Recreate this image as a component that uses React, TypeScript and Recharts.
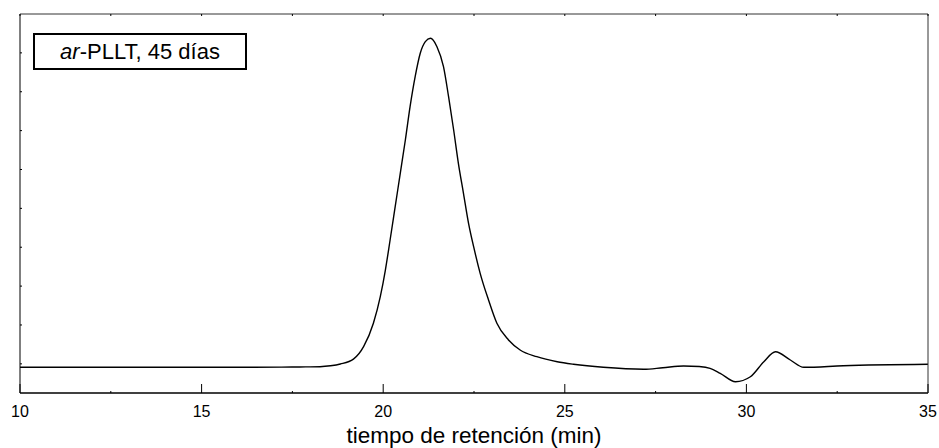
import React from 'react';
import { LineChart, Line, XAxis, YAxis } from 'recharts';

// retention time (min) and detector response (arbitrary units)
const TIME = [
  10, 12, 14, 16, 17.2, 17.7, 18.26, 18.55, 18.82, 19.18, 19.46, 19.73, 19.92, 20.06, 20.19,
  20.33, 20.47, 20.61, 20.74, 20.88, 21.02, 21.16, 21.3, 21.48, 21.66, 21.8, 21.94, 22.07,
  22.21, 22.35, 22.49, 22.67, 22.9, 23.13, 23.45, 23.77, 24.23, 24.79, 25.24, 26.06, 27.17,
  27.7, 28.27, 28.7, 29.0, 29.28, 29.7, 30.11, 30.48, 30.8, 31.21, 31.58, 32.67, 35,
];
const SIGNAL = [
  9.11, 9.11, 9.11, 9.11, 9.15, 9.2, 9.27, 9.5, 9.95, 11.2, 14.41, 20.43, 27.27, 34.14, 41.86,
  50.43, 59.02, 67.59, 76.16, 83.87, 89.89, 92.88, 93.75, 91.59, 86.45, 78.73, 70.16, 61.59,
  53.88, 46.16, 40.14, 33.29, 26.43, 20.43, 16.14, 13.56, 11.84, 10.55, 9.9, 9.11, 8.6,
  9.0, 9.45, 9.3, 8.85, 7.57, 5.41, 6.69, 10.55, 13.1, 10.99, 9.11, 9.52, 9.88,
];

const X_TICKS = [10, 12.5, 15, 17.5, 20, 22.5, 25, 27.5, 30, 32.5, 35];
const Y_TICKS = [10, 20, 30, 40, 50, 60, 70, 80, 90];
const X_DOMAIN = [10, 35];
const Y_DOMAIN = [2.5, 100];

const data = TIME.map((t, i) => ({ t, v: SIGNAL[i] }));

const FONT = '"Liberation Sans", Arial, sans-serif';

const BottomTick = (props: any) => {
  const { x, y, payload } = props;
  const major = payload.value % 5 === 0;
  return (
    <g>
      <line x1={x} x2={x} y1={y} y2={y - (major ? 9 : 2)} stroke="#000" strokeWidth={1} />
      {major && (
        <text x={x} y={y + 24} textAnchor="middle" fontSize={16} fontFamily={FONT} fill="#000">
          {payload.value}
        </text>
      )}
    </g>
  );
};

const TopTick = (props: any) => {
  const { x, y } = props;
  return <line x1={x} x2={x} y1={y} y2={y + 2} stroke="#000" strokeWidth={1} />;
};

const LeftTick = (props: any) => {
  const { x, y } = props;
  return <line x1={x} x2={x + 2} y1={y} y2={y} stroke="#000" strokeWidth={1} />;
};

const RightTick = (props: any) => {
  const { x, y } = props;
  return <line x1={x} x2={x - 2} y1={y} y2={y} stroke="#000" strokeWidth={1} />;
};

const App: React.FC = () => {
  return (
    <div style={{ position: 'absolute', left: 0, top: 0, width: 939, height: 448, background: '#fff' }}>
      <LineChart width={939} height={448} data={data} margin={{ top: 13, right: 10, bottom: 0, left: 19 }}>
        <XAxis
          dataKey="t"
          type="number"
          domain={X_DOMAIN}
          ticks={X_TICKS}
          interval={0}
          height={55}
          tickSize={0}
          tickMargin={0}
          tickLine={false}
          tick={<BottomTick />}
          axisLine={{ stroke: '#000', strokeWidth: 1.5 }}
          label={{
            value: 'tiempo de retención (min)',
            position: 'insideBottom',
            offset: 5,
            fontSize: 22.5,
            fontFamily: FONT,
            fill: '#000',
          }}
        />
        <XAxis
          xAxisId="top"
          orientation="top"
          dataKey="t"
          type="number"
          domain={X_DOMAIN}
          ticks={X_TICKS}
          interval={0}
          height={1}
          tickSize={0}
          tickMargin={0}
          tickLine={false}
          tick={<TopTick />}
          axisLine={{ stroke: '#333' }}
        />
        <YAxis
          type="number"
          domain={Y_DOMAIN}
          ticks={Y_TICKS}
          interval={0}
          width={1}
          tickSize={0}
          tickMargin={0}
          tickLine={false}
          tick={<LeftTick />}
          axisLine={{ stroke: '#000' }}
        />
        <YAxis
          yAxisId="right"
          orientation="right"
          type="number"
          domain={Y_DOMAIN}
          ticks={Y_TICKS}
          interval={0}
          width={1}
          tickSize={0}
          tickMargin={0}
          tickLine={false}
          tick={<RightTick />}
          axisLine={{ stroke: '#333' }}
        />
        <Line
          type="monotone"
          dataKey="v"
          stroke="#000"
          strokeWidth={1.4}
          dot={false}
          isAnimationActive={false}
        />
      </LineChart>
      <div
        style={{
          position: 'absolute',
          left: 33,
          top: 33,
          width: 214,
          height: 37,
          boxSizing: 'border-box',
          border: '2px solid #000',
          background: '#fff',
          fontFamily: FONT,
          fontSize: 22,
          lineHeight: '33px',
          textAlign: 'center',
          color: '#000',
          whiteSpace: 'nowrap',
        }}
      >
        <i>ar</i>-PLLT, 45 días
      </div>
    </div>
  );
};

export default App;
